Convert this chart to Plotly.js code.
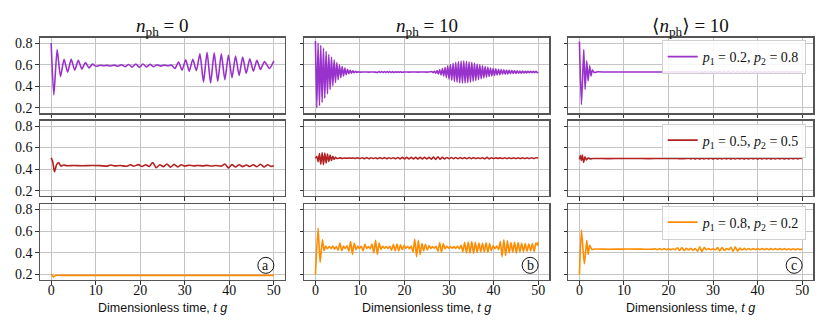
<!DOCTYPE html>
<html><head><meta charset="utf-8">
<script src="https://cdn.plot.ly/plotly-3.0.1.min.js"></script>
<style>html,body{margin:0;padding:0;background:#fff}#plot{width:830px;height:332px}</style>
</head><body><div id="plot"></div>
<script>
// ---------- data ----------
const columnTitles = ['<i>n</i><sub>ph</sub> = 0', '<i>n</i><sub>ph</sub> = 10', '⟨<i>n</i><sub>ph</sub>⟩ = 10'];
const legendNames = ['<i>p</i><sub>1</sub> = 0.2, <i>p</i><sub>2</sub> = 0.8',
                     '<i>p</i><sub>1</sub> = 0.5, <i>p</i><sub>2</sub> = 0.5',
                     '<i>p</i><sub>1</sub> = 0.8, <i>p</i><sub>2</sub> = 0.2'];
const panelLabels = ['a', 'b', 'c'];
const xTicks = [0, 10, 20, 30, 40, 50];
const yTicks = [0.2, 0.4, 0.6, 0.8];

// row 1, n_ph = 0
const t11 = [0,0.6,1.35,2.1,2.9,3.7,4.5,5.3,6.1,6.9,7.7,8.5,9.3,10.1,11.0,11.8,12.6,13.4,14.2,15.0,15.8,16.6,17.4,18.2,19.0,19.8,20.6,21.4,22.2,23.0,23.8,24.6,25.4,26.2,27.0,27.8,28.6,29.4,30.2,31.0,31.8,32.6,33.4,34.2,35.0,35.8,36.6,37.4,38.2,39.0,39.8,40.6,41.4,42.2,43.0,43.8,44.6,45.4,46.2,47.0,47.9,49.0,50.0];
const y11 = [0.80,0.32,0.74,0.49,0.65,0.53,0.65,0.55,0.64,0.56,0.62,0.57,0.605,0.585,0.595,0.590,0.594,0.588,0.596,0.586,0.600,0.582,0.602,0.578,0.607,0.576,0.606,0.579,0.603,0.582,0.600,0.587,0.596,0.590,0.596,0.565,0.625,0.55,0.645,0.54,0.65,0.545,0.70,0.44,0.715,0.43,0.71,0.445,0.70,0.46,0.69,0.48,0.68,0.50,0.67,0.52,0.655,0.54,0.64,0.555,0.63,0.565,0.635];

// row 1, n_ph = 10
const t12 = [0,0.3,0.6,0.9,1.2,1.5,1.8,2.1,2.4,2.7,3.0,3.3,3.6,3.9,4.2,4.5,4.8,5.1,5.4,5.7,6.0,6.3,6.6,6.9,7.2,7.5,7.8,8.1,8.4,8.7,9.0,
 9.3,9.6,10,11,12,13,14,14.3,14.6,14.9,15.2,15.5,15.8,16.1,16.4,16.7,17.0,17.3,17.6,17.9,18.2,18.5,18.8,19.1,19.4,20,21,22,23,24,25,25.8,
 26.1,26.4,26.7,27.0,27.3,27.6,27.9,28.2,28.5,28.8,29.1,29.4,29.7,30.0,30.3,30.6,30.9,31.2,31.5,31.8,
 32.1,32.4,32.7,33.0,33.3,33.6,33.9,34.2,34.5,34.8,35.1,35.4,35.7,36.0,36.3,36.6,36.9,37.2,37.5,37.8,
 38.1,38.4,38.7,39.0,39.3,39.6,39.9,40.2,40.5,40.8,41.1,41.4,41.7,42.0,42.3,42.6,42.9,43.2,43.5,43.8,
 44.1,44.4,44.7,45.0,45.3,45.6,45.9,46.2,46.5,46.8,47.1,47.4,47.7,48.0,48.3,48.6,48.9,49.2,49.5,49.8,50.0];
const y12 = [0.82,0.20,0.80,0.22,0.78,0.25,0.755,0.29,0.725,0.33,0.695,0.37,0.67,0.405,0.645,0.435,0.62,0.46,0.60,0.48,0.583,0.495,0.568,0.508,0.557,0.516,0.549,0.522,0.543,0.527,0.538,
 0.529,0.535,0.531,0.533,0.531,0.533,0.529,0.536,0.528,0.537,0.527,0.537,0.527,0.537,0.527,0.537,0.528,0.536,0.528,0.535,0.529,0.535,0.530,0.534,0.530,0.533,0.531,0.533,0.531,0.533,0.531,0.534,
 0.537,0.526,0.540,0.522,0.545,0.514,0.555,0.504,0.565,0.495,0.574,0.482,0.589,0.467,0.602,0.456,0.614,0.445,0.623,0.437,
 0.630,0.432,0.634,0.429,0.635,0.430,0.632,0.434,0.628,0.439,0.622,0.446,0.614,0.454,0.606,0.462,0.598,0.470,0.590,0.478,
 0.582,0.485,0.576,0.491,0.570,0.496,0.565,0.501,0.561,0.505,0.558,0.508,0.555,0.511,0.552,0.513,0.550,0.515,0.548,0.517,
 0.546,0.519,0.545,0.520,0.543,0.521,0.542,0.522,0.541,0.523,0.540,0.524,0.540,0.525,0.539,0.525,0.538,0.526,0.538,0.526,0.533];

// row 1, <n_ph> = 10
const t13 = [0,0.45,0.97,1.27,1.64,1.94,2.3,2.6,2.9,3.3,4,6,9,12,15,18,21,24,26,28,
 28.5,29.0,29.5,30.0,30.5,31.0,31.5,32.0,32.5,33.0,33.5,34.0,34.5,35.0,35.5,36.0,36.5,37.0,37.5,38.0,38.5,39.0,
 39.5,40.0,40.5,41.0,41.5,42.0,42.5,43.0,43.5,44.0,44.5,45.0,45.5,46.0,46.5,47.0,47.5,48.0,48.5,49.0,49.5,50.0];
const y13 = [0.815,0.23,0.74,0.37,0.635,0.45,0.59,0.495,0.55,0.528,0.534,0.532,0.533,0.532,0.532,0.533,0.532,0.532,0.533,0.531,
 0.535,0.529,0.536,0.528,0.537,0.527,0.538,0.526,0.538,0.526,0.539,0.525,0.539,0.525,0.539,0.525,0.538,0.526,0.538,0.526,0.537,0.527,
 0.537,0.527,0.537,0.527,0.536,0.528,0.536,0.528,0.536,0.528,0.536,0.528,0.535,0.529,0.535,0.529,0.535,0.529,0.535,0.529,0.535,0.532];

// row 2, n_ph = 0
const t21 = [0,0.35,0.75,1.2,1.65,2.2,2.8,3.5,5,7,9,11,12.6,13.4,14.2,15.5,17.0,17.8,18.6,19.6,20.4,21.2,22.0,22.8,23.6,24.4,25.2,26.0,26.8,27.6,28.4,29.2,30.0,31,32,33,34,35,36,37,38.2,39.0,39.8,40.6,41.4,42.2,43.0,43.8,44.6,45.4,46.2,47.0,47.8,48.6,49.4,50];
const y21 = [0.505,0.47,0.375,0.44,0.462,0.428,0.438,0.432,0.433,0.431,0.433,0.432,0.428,0.438,0.430,0.433,0.427,0.440,0.428,0.442,0.424,0.441,0.425,0.462,0.412,0.440,0.422,0.447,0.418,0.444,0.420,0.440,0.428,0.436,0.430,0.434,0.430,0.435,0.429,0.434,0.428,0.448,0.410,0.442,0.420,0.440,0.423,0.438,0.424,0.440,0.422,0.445,0.420,0.440,0.425,0.432];

// row 2, n_ph = 10
const t22 = [0,0.3,0.6,0.9,1.2,1.5,1.8,2.1,2.4,2.7,3.0,3.3,3.6,3.9,4.2,4.5,4.8,
 5.5,6.0,6.5,7.0,7.5,8.0,8.5,9.0,
 9.5,10.0,10.5,11.0,11.5,12.0,12.5,13.0,13.5,14.0,14.5,15.0,15.5,16.0,16.5,17.0,17.5,18.0,18.5,19.0,
 19.5,20.0,20.5,21.0,21.5,22.0,22.5,23.0,23.5,24.0,24.5,25.0,25.5,26.0,26.5,27.0,27.5,28.0,28.5,29.0,
 29.5,30.0,30.5,31.0,31.5,32.0,32.5,33.0,33.5,34.0,34.5,35.0,35.5,36.0,36.5,37.0,37.5,38.0,38.5,39.0,
 39.5,40.0,40.5,41.0,41.5,42.0,42.5,43.0,43.5,44.0,44.5,45.0,45.5,46.0,46.5,47.0,47.5,48.0,48.5,49.0,49.5,50.0];
const y22 = [0.50,0.52,0.47,0.545,0.445,0.555,0.44,0.55,0.455,0.54,0.47,0.53,0.48,0.52,0.49,0.51,0.498,
 0.504,0.500,0.503,0.501,0.503,0.501,0.503,0.500,
 0.505,0.498,0.506,0.497,0.507,0.497,0.506,0.498,0.506,0.497,0.507,0.496,0.507,0.497,0.506,0.498,0.506,0.496,0.508,0.495,
 0.509,0.494,0.510,0.494,0.509,0.495,0.510,0.493,0.510,0.494,0.509,0.495,0.510,0.493,0.511,0.490,0.514,0.491,0.510,0.495,
 0.508,0.496,0.508,0.496,0.508,0.496,0.507,0.497,0.507,0.496,0.508,0.496,0.507,0.498,0.505,0.499,0.505,0.496,0.509,0.496,
 0.505,0.499,0.504,0.500,0.504,0.499,0.505,0.499,0.505,0.499,0.505,0.499,0.505,0.499,0.505,0.499,0.505,0.498,0.506,0.498,0.506,0.504];

// row 2, <n_ph> = 10
const t23 = [0,0.2,0.45,0.65,0.95,1.25,1.6,2.0,2.4,3.0,5,8,11,14,17,20,22,24,
 24.5,25.0,25.5,26.0,26.5,27.0,27.5,28.0,28.5,29.0,29.5,30.0,30.5,31.0,31.5,32.0,32.5,33.0,33.5,34.0,
 34.5,35.0,35.5,36.0,36.5,37.0,37.5,38.0,38.5,39.0,39.5,40.0,40.5,41.0,41.5,42.0,42.5,43.0,43.5,44.0,
 44.5,45.0,45.5,46.0,46.5,47.0,47.5,48.0,48.5,49.0,49.5,50.0];
const y23 = [0.49,0.525,0.48,0.53,0.462,0.515,0.485,0.505,0.495,0.499,0.498,0.498,0.499,0.498,0.498,0.499,0.498,0.498,
 0.501,0.495,0.502,0.494,0.502,0.494,0.502,0.494,0.501,0.495,0.502,0.494,0.502,0.494,0.502,0.494,0.501,0.495,0.502,0.494,
 0.502,0.494,0.501,0.495,0.502,0.494,0.502,0.494,0.501,0.495,0.502,0.494,0.502,0.494,0.501,0.495,0.502,0.494,0.502,0.494,
 0.501,0.495,0.502,0.494,0.502,0.494,0.501,0.495,0.501,0.495,0.501,0.498];

// row 3, n_ph = 0
const t31 = [0,0.25,0.5,0.8,1.2,2,5,10,15,20,25,30,35,40,45,50];
const y31 = [0.205,0.19,0.178,0.188,0.194,0.193,0.193,0.193,0.193,0.193,0.193,0.193,0.193,0.193,0.193,0.193];

// row 3, n_ph = 10
const t32 = [0,0.6,1.05,1.57,1.95,
 2.3,2.7,3.1,3.5,3.9,4.3,4.7,5.1,5.5,5.9,
 6.3,6.7,7.1,7.5,7.9,8.3,8.7,9.1,9.5,9.9,
 10.3,10.7,11.1,11.5,11.9,12.3,12.7,13.1,13.5,13.9,
 14.3,14.7,15.1,15.5,15.9,16.3,16.7,17.1,17.5,17.9,
 18.3,18.7,19.1,19.5,19.9,20.3,20.7,21.1,21.5,21.9,
 22.3,22.7,23.1,23.5,23.9,24.3,24.7,25.1,25.5,25.9,
 26.3,26.7,27.1,27.5,27.9,28.3,28.7,29.1,29.5,29.9,
 30.3,30.7,31.1,31.5,31.9,32.3,32.7,33.1,33.5,33.9,
 34.3,34.7,35.1,35.5,35.9,36.3,36.7,37.1,37.5,37.9,
 38.3,38.7,39.1,39.5,39.9,40.3,40.7,41.1,41.5,41.9,
 42.3,42.7,43.1,43.5,43.9,44.3,44.7,45.1,45.5,45.9,
 46.3,46.7,47.1,47.5,47.9,48.3,48.7,49.1,49.5,49.9,50.0];
const y32 = [0.20,0.628,0.312,0.52,0.42,
 0.462,0.438,0.458,0.440,0.462,0.436,0.458,0.425,0.490,0.420,
 0.462,0.440,0.465,0.415,0.505,0.385,0.490,0.430,0.462,0.440,
 0.460,0.420,0.478,0.440,0.458,0.438,0.480,0.400,0.515,0.385,
 0.490,0.432,0.460,0.442,0.458,0.440,0.460,0.425,0.478,0.420,
 0.482,0.418,0.475,0.428,0.470,0.440,0.460,0.438,0.462,0.410,
 0.525,0.365,0.515,0.385,0.485,0.420,0.478,0.425,0.468,0.440,
 0.458,0.442,0.460,0.415,0.495,0.405,0.485,0.438,0.460,0.442,
 0.457,0.443,0.458,0.440,0.460,0.436,0.470,0.410,0.495,0.400,
 0.500,0.398,0.505,0.395,0.498,0.405,0.490,0.408,0.488,0.410,
 0.492,0.405,0.485,0.420,0.465,0.438,0.462,0.430,0.505,0.365,
 0.520,0.375,0.510,0.400,0.495,0.405,0.498,0.400,0.495,0.410,
 0.488,0.412,0.485,0.415,0.482,0.418,0.485,0.412,0.490,0.470,0.503];

// row 3, <n_ph> = 10
const t33 = [0,0.45,1.1,1.65,1.95,2.3,2.8,3.5,5,8,11,14,16.5,
 17.0,17.5,18.0,18.5,19.0,19.5,20.0,20.5,21.0,21.5,22.0,22.5,23.0,23.5,24.0,24.5,25.0,25.5,26.0,26.5,
 27.0,27.5,28.0,28.5,29.0,29.5,30.0,30.5,31.0,31.5,32.0,32.5,33.0,33.5,34.0,34.5,35.0,35.5,36.0,36.5,
 37.0,37.5,38.0,38.5,39.0,39.5,40.0,40.5,41.0,41.5,42.0,42.5,43.0,43.5,44.0,44.5,45.0,45.5,46.0,46.5,
 47.0,47.5,48.0,48.5,49.0,49.5,50.0];
const y33 = [0.2,0.609,0.297,0.516,0.385,0.47,0.43,0.436,0.434,0.434,0.435,0.434,0.434,
 0.438,0.430,0.439,0.429,0.439,0.430,0.438,0.430,0.438,0.430,0.446,0.422,0.448,0.421,0.442,0.426,0.443,0.425,0.440,0.415,
 0.456,0.412,0.450,0.428,0.440,0.430,0.438,0.428,0.448,0.418,0.450,0.422,0.440,0.428,0.452,0.414,0.456,0.416,0.445,0.426,
 0.441,0.428,0.440,0.428,0.440,0.429,0.439,0.429,0.439,0.429,0.440,0.428,0.439,0.429,0.439,0.429,0.439,0.429,0.439,0.430,
 0.438,0.430,0.438,0.430,0.438,0.430,0.436];

// ---------- styling / layout ----------
const PURPLE = '#9932CC', RED = '#B22222', ORANGE = '#FF8C00';
const series = [
  [t11,y11,PURPLE],[t12,y12,PURPLE],[t13,y13,PURPLE],
  [t21,y21,RED],[t22,y22,RED],[t23,y23,RED],
  [t31,y31,ORANGE],[t32,y32,ORANGE],[t33,y33,ORANGE]
];
const W = 830, H = 332;
const colPx = [[40,285],[304.3,549.3],[568.3,813.3]];
const rowPx = [[37.7,113.3],[120.7,196],[204,280]];
const serif = "'Liberation Serif', 'DejaVu Serif', serif";
const sans = "'Liberation Sans', 'DejaVu Sans', sans-serif";

const traces = [];
const layout = {
  width: W, height: H, margin: {l:0,r:0,t:0,b:0},
  paper_bgcolor: '#fff', plot_bgcolor: '#fff',
  font: {family: serif, size: 14, color: '#111'},
  showlegend: true, annotations: [], shapes: []
};
const legendKeys = ['legend','legend2','legend3'];

series.forEach((s, i) => {
  const n = i + 1, r = Math.floor(i / 3), c = i % 3;
  const xa = n === 1 ? 'x' : 'x' + n, ya = n === 1 ? 'y' : 'y' + n;
  if (s[0].length !== s[1].length) console.error('length mismatch panel', n, s[0].length, s[1].length);
  const tr = {x: s[0], y: s[1], xaxis: xa, yaxis: ya, type: 'scatter', mode: 'lines',
    line: {color: s[2], width: 1.6, shape: 'spline', smoothing: 0.6}, hoverinfo: 'skip', showlegend: false};
  if (c === 2) { tr.showlegend = true; tr.name = legendNames[r]; tr.legend = legendKeys[r]; }
  traces.push(tr);
  const common = {ticks: 'outside', ticklen: 3.5, tickwidth: 1, tickcolor: '#333',
    showgrid: true, gridcolor: '#c4c4c4', gridwidth: 1, showline: true, mirror: true,
    linecolor: '#555', linewidth: 1.3, zeroline: false,
    tickfont: {family: serif, size: 14, color: '#111'}};
  layout[n === 1 ? 'xaxis' : 'xaxis' + n] = Object.assign({}, common, {
    domain: [colPx[c][0] / W, colPx[c][1] / W], anchor: ya, range: [-2.5, 52.5],
    tickvals: xTicks, ticktext: xTicks.map(String), showticklabels: r === 2, ticklabelstandoff: -7});
  layout[n === 1 ? 'yaxis' : 'yaxis' + n] = Object.assign({}, common, {
    domain: [1 - rowPx[r][1] / H, 1 - rowPx[r][0] / H], anchor: xa, range: [0.15, 0.85],
    tickvals: yTicks, ticktext: yTicks.map(v => v.toFixed(1)), showticklabels: c === 0});
});

// column titles and x-axis titles
columnTitles.forEach((txt, c) => {
  layout.annotations.push({text: txt, xref: 'paper', yref: 'paper', showarrow: false,
    x: (colPx[c][0] + colPx[c][1]) / 2 / W, y: 1 - 27 / H, xanchor: 'center', yanchor: 'middle',
    font: {family: serif, size: 19, color: '#111'}});
  layout.annotations.push({text: 'Dimensionless time, <i>t g</i>',
    xref: 'paper', yref: 'paper', showarrow: false,
    x: (colPx[c][0] + colPx[c][1]) / 2 / W, y: 1 - 308 / H, xanchor: 'center', yanchor: 'middle',
    font: {family: sans, size: 12.5, color: '#111'}});
});

// circled panel labels
panelLabels.forEach((lab, c) => {
  const n = 7 + c;
  layout.shapes.push({type: 'circle', xref: 'x' + n, yref: 'y' + n, xsizemode: 'pixel', ysizemode: 'pixel',
    xanchor: 48.2, yanchor: 0.285, x0: -8, x1: 8, y0: -8, y1: 8, line: {color: '#111', width: 1}, fillcolor: 'rgba(0,0,0,0)'});
  layout.annotations.push({text: lab, xref: 'x' + n, yref: 'y' + n, x: 48.2, y: 0.285, showarrow: false,
    xanchor: 'center', yanchor: 'middle', font: {family: serif, size: 14, color: '#111'}});
});

// legends (one per row in the right column)
const legTop = [40, 123.5, 205.5];
legendKeys.forEach((k, r) => {
  layout[k] = {x: 805.7 / W, xanchor: 'right', y: 1 - legTop[r] / H, yanchor: 'top',
    bgcolor: 'rgba(255,255,255,0.85)', bordercolor: '#d0d0d0', borderwidth: 1,
    font: {family: serif, size: 14, color: '#111'}, itemwidth: 30, tracegroupgap: 0};
});

Plotly.newPlot('plot', traces, layout, {staticPlot: true, displayModeBar: false});
</script></body></html>
